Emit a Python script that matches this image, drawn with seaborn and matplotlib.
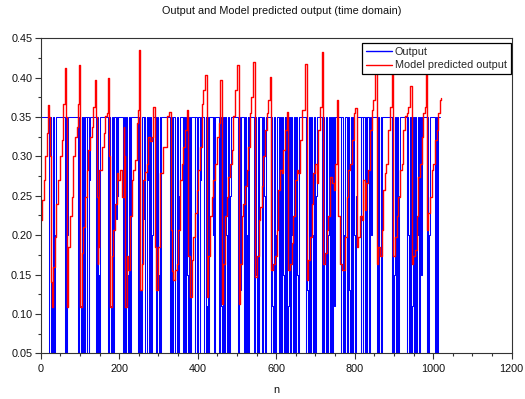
import matplotlib
matplotlib.use("Agg")
import matplotlib.pyplot as plt
from matplotlib.ticker import MultipleLocator, FormatStrFormatter
import seaborn as sns
import pandas as pd

# ---- Output (measured) signal: change points (sample index, level) ----
out_n = [0,
         22, 25, 27, 29, 31, 33, 34, 37, 39,
         62, 64, 65, 66, 68, 70,
         96, 98, 100, 102, 104, 106, 107, 109, 111, 113,
         117, 119, 122, 124, 126,
         141, 143, 145, 147, 149, 151,
         171, 174, 176, 178, 181, 183, 186, 188,
         193, 195, 196, 197,
         210, 212, 215, 217, 220, 222, 225, 228, 231,
         248, 250, 252, 255, 257, 259, 262, 264, 267, 270, 271, 273,
         277, 279, 282, 284, 286,
         295, 297, 299, 301, 304, 305, 307,
         329, 331, 333, 335, 338, 341, 343, 346, 349, 352, 355,
         362, 364, 367, 370, 373, 375, 378, 380, 383,
         392, 394, 397, 399, 402, 405, 407, 409,
         417, 420, 422, 424, 427, 428, 430,
         438, 440, 441, 443,
         455, 457, 459, 461, 464, 466, 469, 472, 474, 477, 480, 482, 485,
         502, 505, 507, 510,
         518, 520, 523, 526, 528, 529, 531,
         544, 546, 548, 550, 553, 555, 556,
         565, 567, 570, 572, 573,
         586, 588, 590, 592, 595, 598, 600, 603,
         607, 609, 612, 615, 618, 620, 622, 623, 624,
         628, 630, 632, 635, 637, 640, 642, 645, 648, 650, 653, 655, 658,
         675, 677, 679, 681, 684, 687, 689, 692, 694, 697, 700, 702, 704,
         717, 719, 721, 723, 726, 729, 731, 734,
         738, 740, 743, 745, 748, 751,
         764, 766, 769, 772, 774, 776,
         781, 783, 786, 788, 791, 794, 796, 799, 801, 804, 806,
         815, 817, 820, 822, 825, 827, 830, 831, 832,
         836, 838, 841, 844,
         857, 859, 861, 863, 866, 868, 870,
         894, 896, 898, 900, 902, 904, 907,
         911, 913, 916,
         932, 934, 937, 939, 942, 944, 946, 948, 951, 953, 956, 958, 960, 963, 966, 968, 971,
         983, 985, 987, 989, 992,
         1005, 1007, 1009, 1011,
         1017]
out_val = [0.35,
           0.0, 0.35, 0.11, 0.0, 0.35, 0.25, 0.0, 0.2, 0.35,
           0.0, 0.35, 0.15, 0.0, 0.2, 0.35,
           0.02, 0.35, 0.11, 0.0, 0.35, 0.2, 0.0, 0.35, 0.0, 0.35,
           0.0, 0.35, 0.0, 0.27, 0.35,
           0.0, 0.35, 0.0, 0.15, 0.0, 0.35,
           0.0, 0.35, 0.11, 0.0, 0.35, 0.0, 0.22, 0.35,
           0.22, 0.35, 0.25, 0.35,
           0.0, 0.35, 0.0, 0.35, 0.15, 0.0, 0.35, 0.0, 0.35,
           0.02, 0.35, 0.0, 0.13, 0.0, 0.35, 0.22, 0.35, 0.0, 0.35, 0.27, 0.35,
           0.0, 0.35, 0.0, 0.2, 0.35,
           0.0, 0.35, 0.15, 0.0, 0.35, 0.0, 0.35,
           0.0, 0.11, 0.35, 0.0, 0.35, 0.2, 0.0, 0.35, 0.0, 0.25, 0.35,
           0.0, 0.35, 0.0, 0.35, 0.15, 0.0, 0.35, 0.0, 0.35,
           0.0, 0.35, 0.2, 0.0, 0.35, 0.0, 0.27, 0.35,
           0.0, 0.35, 0.11, 0.0, 0.35, 0.0, 0.35,
           0.2, 0.35, 0.0, 0.35,
           0.0, 0.35, 0.11, 0.0, 0.35, 0.0, 0.35, 0.2, 0.0, 0.35, 0.0, 0.25, 0.35,
           0.0, 0.35, 0.13, 0.35,
           0.0, 0.35, 0.0, 0.2, 0.35, 0.0, 0.35,
           0.0, 0.35, 0.15, 0.0, 0.35, 0.0, 0.35,
           0.0, 0.35, 0.25, 0.0, 0.35,
           0.0, 0.35, 0.11, 0.0, 0.35, 0.0, 0.2, 0.35,
           0.0, 0.35, 0.0, 0.35, 0.15, 0.0, 0.35, 0.0, 0.35,
           0.0, 0.11, 0.35, 0.0, 0.35, 0.2, 0.0, 0.35, 0.0, 0.35, 0.15, 0.0, 0.35,
           0.0, 0.35, 0.13, 0.0, 0.35, 0.0, 0.35, 0.2, 0.0, 0.35, 0.0, 0.25, 0.35,
           0.0, 0.35, 0.15, 0.0, 0.35, 0.0, 0.2, 0.35,
           0.0, 0.35, 0.0, 0.35, 0.11, 0.35,
           0.0, 0.35, 0.0, 0.2, 0.0, 0.35,
           0.0, 0.35, 0.13, 0.0, 0.35, 0.0, 0.35, 0.2, 0.0, 0.25, 0.35,
           0.0, 0.35, 0.0, 0.35, 0.15, 0.0, 0.35, 0.0, 0.35,
           0.0, 0.35, 0.2, 0.35,
           0.0, 0.35, 0.11, 0.0, 0.35, 0.0, 0.35,
           0.0, 0.35, 0.0, 0.15, 0.35, 0.0, 0.35,
           0.0, 0.25, 0.35,
           0.0, 0.35, 0.2, 0.0, 0.35, 0.0, 0.11, 0.35, 0.0, 0.35, 0.0, 0.2, 0.35, 0.0, 0.35, 0.15, 0.35,
           0.0, 0.35, 0.0, 0.2, 0.35,
           0.0, 0.35, 0.0, 0.35,
           0.35]

# ---- Model predicted output: (sample index, value) ----
pred_n = [0, 3, 8, 12, 16, 19, 22, 24, 27, 30, 32, 36, 40, 45, 49, 53, 58, 62, 64, 66,
          70, 75, 79, 83, 87, 92, 96, 98, 100, 104, 109, 113, 117, 121, 126, 130, 134, 138,
          140, 143, 145, 147, 149, 155, 160, 164, 168, 172, 174, 177, 181, 185, 189, 194,
          198, 202, 206, 211, 213, 215, 219, 223, 228, 232, 236, 240, 245, 249, 251, 253,
          257, 261, 266, 270, 274, 279, 283, 287, 290, 291, 295, 300, 304, 312, 321, 328, 331,
          334, 338, 342, 346, 351, 355, 359, 363, 368, 372, 376, 380, 385, 389, 393, 397,
          402, 406, 410, 414, 419, 423, 427, 431, 436, 440, 444, 448, 453, 457, 461, 465,
          470, 474, 478, 482, 487, 491, 495, 499, 504, 508, 512, 516, 521, 525, 529, 533,
          537, 542, 546, 550, 555, 559, 563, 567, 571, 576, 580, 584, 588, 593, 597, 601,
          605, 610, 614, 618, 622, 627, 631, 635, 639, 644, 648, 652, 656, 661, 665, 669,
          673, 678, 682, 686, 690, 695, 699, 703, 707, 712, 716, 720, 724, 729, 733, 737,
          741, 746, 750, 754, 758, 763, 767, 771, 775, 780, 784, 788, 792, 797, 801, 805,
          809, 814, 818, 822, 826, 830, 835, 839, 843, 847, 852, 854, 858, 860, 864, 869,
          873, 877, 881, 886, 890, 894, 896, 898, 903, 907, 911, 915, 920, 924, 928, 932,
          937, 941, 945, 949, 954, 958, 962, 966, 971, 975, 979, 982, 985, 988, 992, 996,
          1000, 1005, 1009, 1013, 1017, 1021]
pred_val = [0.219, 0.245, 0.270, 0.300, 0.330, 0.365, 0.350, 0.300, 0.140, 0.109, 0.160, 0.198,
            0.240, 0.270, 0.300, 0.321, 0.367, 0.412, 0.350, 0.109,
            0.185, 0.224, 0.249, 0.300, 0.325, 0.338, 0.367, 0.416, 0.109, 0.177, 0.210, 0.249,
            0.283, 0.308, 0.325, 0.338, 0.363, 0.397,
            0.350, 0.249, 0.164, 0.185, 0.283, 0.312, 0.330, 0.351, 0.355, 0.399, 0.300, 0.109,
            0.173, 0.207, 0.240, 0.279,
            0.270, 0.283, 0.249, 0.338, 0.300, 0.109, 0.173, 0.156, 0.224, 0.270, 0.283, 0.296,
            0.342, 0.359, 0.435, 0.130,
            0.164, 0.270, 0.280, 0.291, 0.325, 0.320, 0.325, 0.363, 0.300, 0.185, 0.130, 0.185,
            0.279, 0.312, 0.351, 0.357, 0.207,
            0.155, 0.143, 0.156, 0.164, 0.207, 0.270, 0.291, 0.312, 0.334, 0.359, 0.173, 0.122,
            0.169, 0.198, 0.228, 0.257,
            0.283, 0.312, 0.367, 0.384, 0.403, 0.122, 0.173, 0.224, 0.249, 0.270, 0.291, 0.325,
            0.342, 0.397, 0.113, 0.164,
            0.224, 0.249, 0.274, 0.291, 0.308, 0.351, 0.384, 0.416, 0.113, 0.164, 0.224, 0.240,
            0.262, 0.283, 0.312, 0.355,
            0.376, 0.420, 0.147, 0.173, 0.219, 0.236, 0.262, 0.300, 0.334, 0.355, 0.372, 0.401,
            0.156, 0.164, 0.173, 0.207,
            0.257, 0.283, 0.279, 0.308, 0.334, 0.357, 0.156, 0.164, 0.190, 0.224, 0.270, 0.283,
            0.279, 0.321, 0.359, 0.359,
            0.418, 0.143, 0.169, 0.198, 0.240, 0.279, 0.291, 0.266, 0.334, 0.363, 0.433, 0.164,
            0.177, 0.207, 0.224, 0.274,
            0.266, 0.257, 0.291, 0.372, 0.224, 0.164, 0.156, 0.156, 0.198, 0.249, 0.283, 0.291,
            0.321, 0.355, 0.361, 0.185,
            0.198, 0.224, 0.219, 0.270, 0.232, 0.266, 0.283, 0.334, 0.359, 0.372, 0.406, 0.420,
            0.164, 0.185, 0.173, 0.207,
            0.257, 0.279, 0.291, 0.334, 0.363, 0.406, 0.420, 0.173, 0.198, 0.224, 0.249, 0.283,
            0.291, 0.334, 0.351, 0.355,
            0.363, 0.390, 0.164, 0.173, 0.181, 0.224, 0.274, 0.291, 0.325, 0.355, 0.363, 0.410,
            0.207, 0.228, 0.249, 0.283,
            0.291, 0.321, 0.334, 0.355, 0.372, 0.374]

title = "Output and Model predicted output (time domain)"
x_label = "n"
series_names = ["Output", "Model predicted output"]

sns.set_theme(style="white")
plt.rcParams["font.family"] = ["Liberation Sans", "DejaVu Sans"]

fig = plt.figure(figsize=(5.25, 3.99), dpi=100)
ax = fig.add_axes([40.7 / 525, 1 - 353.3 / 399, 471 / 525, 315 / 399])

df_out = pd.DataFrame({"n": out_n, "v": out_val})
df_pred = pd.DataFrame({"n": pred_n, "v": pred_val})

sns.lineplot(data=df_out, x="n", y="v", ax=ax, color="#0000ff", lw=0.75,
             drawstyle="steps-post", estimator=None, sort=False, label=series_names[0])
sns.lineplot(data=df_pred, x="n", y="v", ax=ax, color="#ff0000", lw=1.0,
             drawstyle="steps-post", estimator=None, sort=False, label=series_names[1])

ax.set_xlim(0, 1200)
ax.set_ylim(0.05, 0.45)
ax.xaxis.set_major_locator(MultipleLocator(200))
ax.xaxis.set_minor_locator(MultipleLocator(50))
ax.yaxis.set_major_locator(MultipleLocator(0.05))
ax.yaxis.set_minor_locator(MultipleLocator(0.025))
ax.yaxis.set_major_formatter(FormatStrFormatter("%.2f"))
ax.tick_params(axis="both", which="major", direction="out", length=4, width=0.8,
               color="#333333", labelsize=7.8, labelcolor="#111111", pad=2,
               bottom=True, left=True, top=False, right=False)
ax.tick_params(axis="both", which="minor", direction="out", length=2.2, width=0.8,
               color="#333333", bottom=True, left=True, top=False, right=False)
ax.tick_params(axis="x", which="major", pad=3.5)
for s in ax.spines.values():
    s.set_color("#333333")
    s.set_linewidth(0.8)

ax.set_xlabel(x_label, fontsize=7.8, color="#111111", labelpad=8)
ax.set_ylabel("")
fig.text(281.5 / 525, 1 - 10.5 / 399, title, ha="center", va="center",
         fontsize=7.8, color="#111111")

leg = ax.legend(loc="upper right", bbox_to_anchor=(0.998, 0.984), fontsize=7.8,
                frameon=True, fancybox=False, shadow=False, borderpad=0.35,
                handlelength=2.4, handletextpad=0.3, labelspacing=0.3,
                borderaxespad=0)
leg.get_frame().set_edgecolor("#000000")
leg.get_frame().set_linewidth(0.9)
leg.get_frame().set_alpha(1)
for line in leg.get_lines():
    line.set_linewidth(1.0)

fig.savefig("out.png", dpi=100)
